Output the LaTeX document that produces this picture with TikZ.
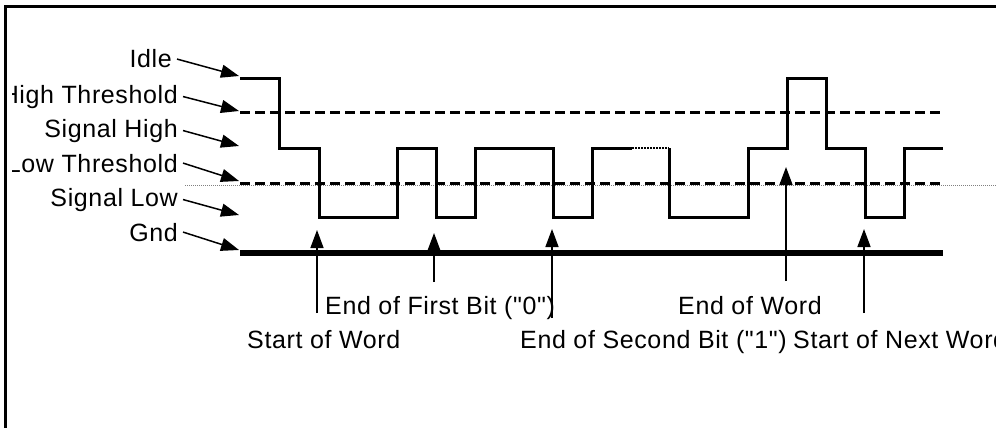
\documentclass[tikz,border=0pt]{standalone}
\usepackage{fontspec}
\setmainfont{Liberation Sans}[LetterSpace=2.5, Ligatures=TeXOff]
\usetikzlibrary{arrows.meta}
\tikzset{
  lbl/.style={font=\fontsize{25}{30}\selectfont, inner xsep=5pt, inner ysep=0pt, anchor=base east},
  txt/.style={font=\fontsize{25}{30}\selectfont, inner sep=0pt, anchor=base west},
  ptr/.style={line width=1.5pt, -{Triangle[length=18pt,width=13pt]}},
  sig/.style={line width=3pt, line join=miter},
  thr/.style={line width=3pt, dash pattern=on 10pt off 5pt},
}
\begin{document}
\begin{tikzpicture}[x=1pt,y=-1pt]
\useasboundingbox (0,0) rectangle (996,428);
% frame
\draw[line width=3pt] (5.5,428) -- (5.5,6.5) -- (996,6.5);

% left labels (clipped on the left)
\begin{scope}
\clip (12,0) rectangle (996,428);
\node[lbl] (idle) at (177,68)  {Idle};
\node[lbl] (hth)  at (183,103) {High Threshold};
\node[lbl] (shi)  at (183,137) {Signal High};
\node[lbl] (lth)  at (183,172) {Low Threshold};
\node[lbl] (slo)  at (183,206) {Signal Low};
\node[lbl] (gnd)  at (183,241) {Gnd};
\end{scope}

\coordinate (lvIdle) at (239,76);
\coordinate (lvHT)   at (239,111);
\coordinate (lvSH)   at (239,146);
\coordinate (lvLT)   at (239,181);
\coordinate (lvSL)   at (239,215);
\coordinate (lvG)    at (239,250);
\draw[ptr] (idle.east) -- (lvIdle);
\draw[ptr] (hth.east)  -- (lvHT);
\draw[ptr] (shi.east)  -- (lvSH);
\draw[ptr] (lth.east)  -- (lvLT);
\draw[ptr] (slo.east)  -- (lvSL);
\draw[ptr] (gnd.east)  -- (lvG);

% thresholds
\draw[thr] (240,112.5) -- (944,112.5);
\draw[gray, line width=1pt, dash pattern=on 1pt off 1pt] (185,185.5) -- (996,185.5);
\draw[thr] (240,183) -- (944,183);

% ground
\draw[line width=6pt] (240,253) -- (943,253);

% waveform
\draw[sig] (240,79) -- (279,79) -- (279,148) -- (319,148) -- (319,217) -- (397,217)
  -- (397,148) -- (436,148) -- (436,217) -- (475,217) -- (475,148) -- (553,148)
  -- (553,217) -- (592,217) -- (592,148) -- (632,148);
\draw[line width=2pt, dash pattern=on 1.5pt off 1.5pt] (632,148) -- (669,148);
\draw[sig] (669,148) -- (669,217) -- (748,217) -- (748,148) -- (787,148) -- (787,79)
  -- (826,79) -- (826,148) -- (865,148) -- (865,217) -- (904,217) -- (904,148) -- (943,148);

% event arrows
\coordinate (a1b) at (317,313); \coordinate (a1t) at (317,230);
\coordinate (a2b) at (434,282); \coordinate (a2t) at (434,233);
\coordinate (a3b) at (552,318); \coordinate (a3t) at (552,229);
\coordinate (a4b) at (786,281); \coordinate (a4t) at (786,167);
\coordinate (a5b) at (864,313); \coordinate (a5t) at (864,229);
\draw[ptr] (a1b) -- (a1t);
\draw[ptr] (a2b) -- (a2t);
\draw[ptr] (a3b) -- (a3t);
\draw[ptr] (a4b) -- (a4t);
\draw[ptr] (a5b) -- (a5t);

% event labels
\node[txt] (sow)  at (247,348) {Start of Word};
\node[txt] (efb)  at (325,314) {End of First Bit ("0")};
\node[txt] (esb)  at (520,348) {End of Second Bit ("1")};
\node[txt] (eow)  at (678,314) {End of Word};
\node[txt] (snw)  at (793,348) {Start of Next Word};
\end{tikzpicture}
\end{document}
